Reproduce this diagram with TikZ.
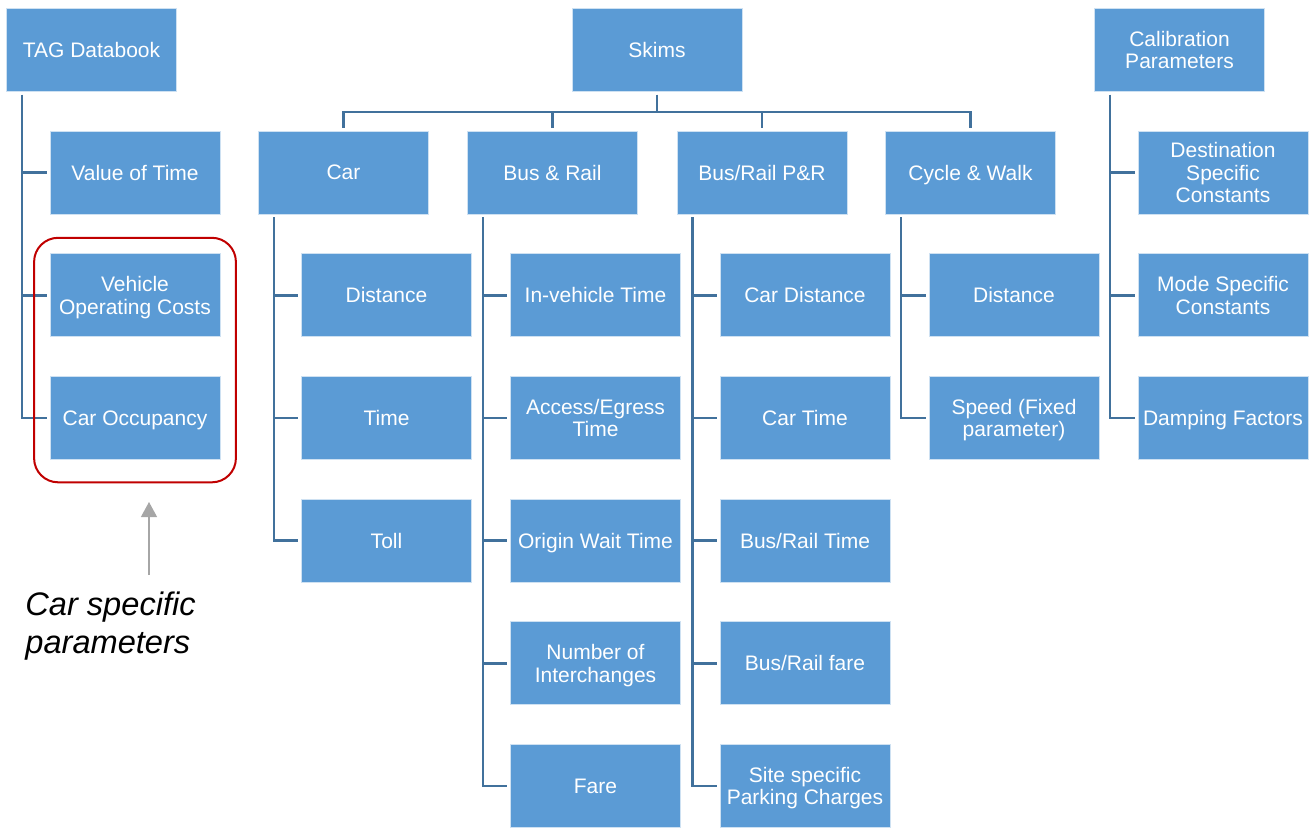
\documentclass[tikz,border=0pt]{standalone}
\usepackage{fontspec}
\setmainfont{Liberation Sans}
\usetikzlibrary{arrows.meta,fit}
\definecolor{boxblue}{HTML}{5B9BD5}
\definecolor{linkblue}{HTML}{41719C}
\definecolor{ringred}{HTML}{C00000}
\begin{document}
\begin{tikzpicture}[x=0.5pt,y=-0.5pt]
   \tikzstyle{box}=[rectangle, fill=boxblue, draw=white!70!boxblue, line width=0.4pt, text=white, minimum width=85pt, minimum height=41.5pt, inner sep=1pt, text depth=0pt, align=center, font=\fontsize{10.5}{11.3}\selectfont]
   \tikzstyle{link}=[draw=linkblue, line width=1.3pt, shorten <=1.5pt, shorten >=1.5pt]
   \tikzstyle{pointer}=[draw=black!35, line width=0.6pt, -{Triangle[width=8pt,length=7.5pt]}, shorten <=8pt]
   \useasboundingbox (0,0) rectangle (1312,827);
   % top row
   \node[box] (tag) at (91.5,50) {TAG Databook};
   \node[box] (skims) at (657,50) {Skims};
   \node[box] (calib) at (1179.5,50) {Calibration\\Parameters};
   % skim modes
   \node[box] (car) at (343.5,172.5) {Car};
   \node[box] (bus) at (552.5,172.5) {Bus \& Rail};
   \node[box] (pr) at (762,172.5) {Bus/Rail P\&R};
   \node[box] (cyc) at (970.5,172.5) {Cycle \& Walk};
   \foreach \m in {car,bus,pr,cyc}
       \draw[link] (skims.south) -- ++(0,20) -| (\m.north);
   % TAG Databook items
   \foreach \i/\txt in {1/{Value of Time},2/{Vehicle\\Operating Costs},3/{Car Occupancy}} {
       \node[box] (tag\i) at (135,{172.5+122.7*(\i-1)}) {\txt};
       \draw[link] ([xshift=8pt]tag.south west) |- (tag\i.west);
   }
   % calibration items
   \foreach \i/\txt in {1/{Destination\\Specific\\Constants},2/{Mode Specific\\Constants},3/{Damping Factors}} {
       \node[box] (calib\i) at (1223,{172.5+122.7*(\i-1)}) {\txt};
       \draw[link] ([xshift=8pt]calib.south west) |- (calib\i.west);
   }
   % car skims
   \foreach \i/\txt in {1/{Distance},2/{Time},3/{Toll}} {
       \node[box] (car\i) at (386.5,{172.5+122.7*\i}) {\txt};
       \draw[link] ([xshift=8pt]car.south west) |- (car\i.west);
   }
   % bus and rail skims
   \foreach \i/\txt in {1/{In-vehicle Time},2/{Access/Egress\\Time},3/{Origin Wait Time},4/{Number of\\Interchanges},5/{Fare}} {
       \node[box] (bus\i) at (595.5,{172.5+122.7*\i}) {\txt};
       \draw[link] ([xshift=8pt]bus.south west) |- (bus\i.west);
   }
   % park and ride skims
   \foreach \i/\txt in {1/{Car Distance},2/{Car Time},3/{Bus/Rail Time},4/{Bus/Rail fare},5/{Site specific\\Parking Charges}} {
       \node[box] (pr\i) at (805,{172.5+122.7*\i}) {\txt};
       \draw[link] ([xshift=8pt]pr.south west) |- (pr\i.west);
   }
   % cycle and walk skims
   \foreach \i/\txt in {1/{Distance},2/{Speed (Fixed\\parameter)}} {
       \node[box] (cyc\i) at (1014,{172.5+122.7*\i}) {\txt};
       \draw[link] ([xshift=8pt]cyc.south west) |- (cyc\i.west);
   }
   % car specific group
   \coordinate (ringbase) at ([yshift=-3.5pt]tag3.south);
   \node[draw=ringred, line width=1pt, rounded corners=12pt, inner sep=7.75pt, fit=(tag2)(tag3)(ringbase)] (ring) {};
   \node[anchor=north west, align=left, inner sep=0pt, font=\fontsize{16.3}{19}\selectfont\itshape] (note) at (25,591) {Car specific\\parameters};
   \coordinate (tip) at (149,502);
   \draw[pointer] (note.north -| tip) -- (tip);
\end{tikzpicture}
\end{document}
